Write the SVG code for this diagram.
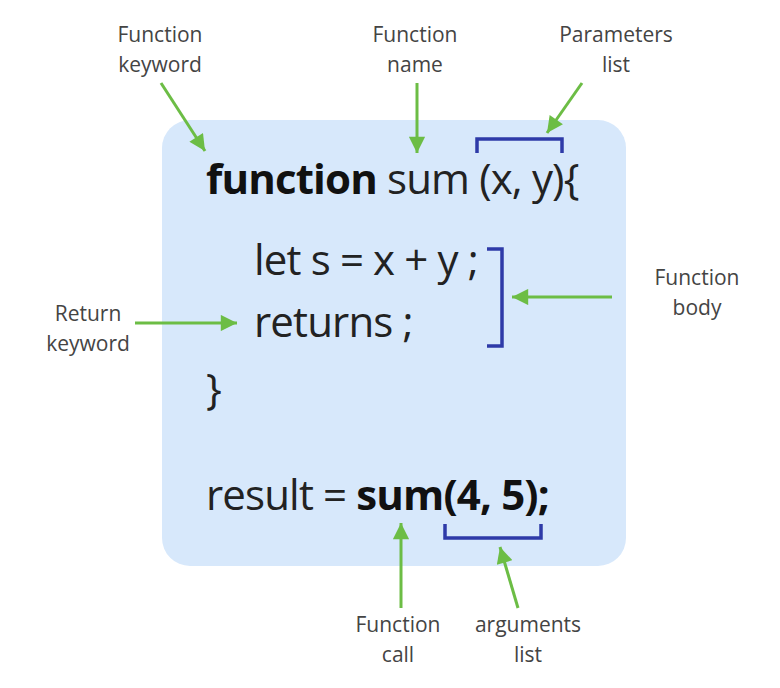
<svg xmlns="http://www.w3.org/2000/svg" width="780" height="688" viewBox="0 0 780 688">
<defs>
<marker id="ah" viewBox="0 0 10 10" refX="10" refY="5" markerWidth="5.8" markerHeight="5.4" markerUnits="strokeWidth" orient="auto">
<path d="M0,0 L10,5 L0,10 z" fill="#6cbd45"/>
</marker>
<style>
.lbl{font-family:"Open Sans","Noto Sans",sans-serif;font-size:21px;fill:#444;text-anchor:middle}
.code{font-family:"Open Sans","Noto Sans",sans-serif;font-size:42px;fill:#222;letter-spacing:-0.85px}
.b{font-weight:700;fill:#111}
.arr{stroke:#6cbd45;stroke-width:3;fill:none;marker-end:url(#ah)}
.brk{stroke:#2e3aa8;stroke-width:3.5;fill:none}
</style>
</defs>
<rect width="780" height="688" fill="#fff"/>
<g id="codebox">
<rect x="162" y="120" width="464" height="446" rx="28" fill="#d7e8fb"/>
<text class="code" x="206" y="194"><tspan class="b">function</tspan> sum (x, y){</text>
<text class="code" x="254" y="275">let s = x + y ;</text>
<text class="code" x="254" y="337">returns ;</text>
<text class="code" x="206" y="404">}</text>
<text class="code" x="206" y="510">result = <tspan class="b">sum(4, 5);</tspan></text>
</g>
<g id="brackets">
<path class="brk" d="M477,153 V139 H562 V153"/>
<path class="brk" d="M487,249 H502 V346 H487"/>
<path class="brk" d="M445,524 V538 H541 V524"/>
</g>
<g id="lbl-keyword"><text class="lbl" x="160" y="42">Function</text><text class="lbl" x="160" y="72">keyword</text></g>
<g id="lbl-name"><text class="lbl" x="415" y="42">Function</text><text class="lbl" x="415" y="72">name</text></g>
<g id="lbl-params"><text class="lbl" x="616" y="42">Parameters</text><text class="lbl" x="616" y="72">list</text></g>
<g id="lbl-return"><text class="lbl" x="88" y="321">Return</text><text class="lbl" x="88" y="351">keyword</text></g>
<g id="lbl-body"><text class="lbl" x="697" y="285">Function</text><text class="lbl" x="697" y="315">body</text></g>
<g id="lbl-call"><text class="lbl" x="398" y="632">Function</text><text class="lbl" x="398" y="662">call</text></g>
<g id="lbl-args"><text class="lbl" x="528" y="632">arguments</text><text class="lbl" x="528" y="662">list</text></g>
<g id="connectors">
<line class="arr" x1="161" y1="83" x2="205" y2="151"/>
<line class="arr" x1="417" y1="83" x2="417" y2="153"/>
<line class="arr" x1="582" y1="83" x2="547" y2="133"/>
<line class="arr" x1="135" y1="323" x2="237" y2="323"/>
<line class="arr" x1="612" y1="297" x2="512" y2="297"/>
<line class="arr" x1="401" y1="608" x2="401" y2="523"/>
<line class="arr" x1="518" y1="608" x2="500" y2="547"/>
</g>
</svg>
